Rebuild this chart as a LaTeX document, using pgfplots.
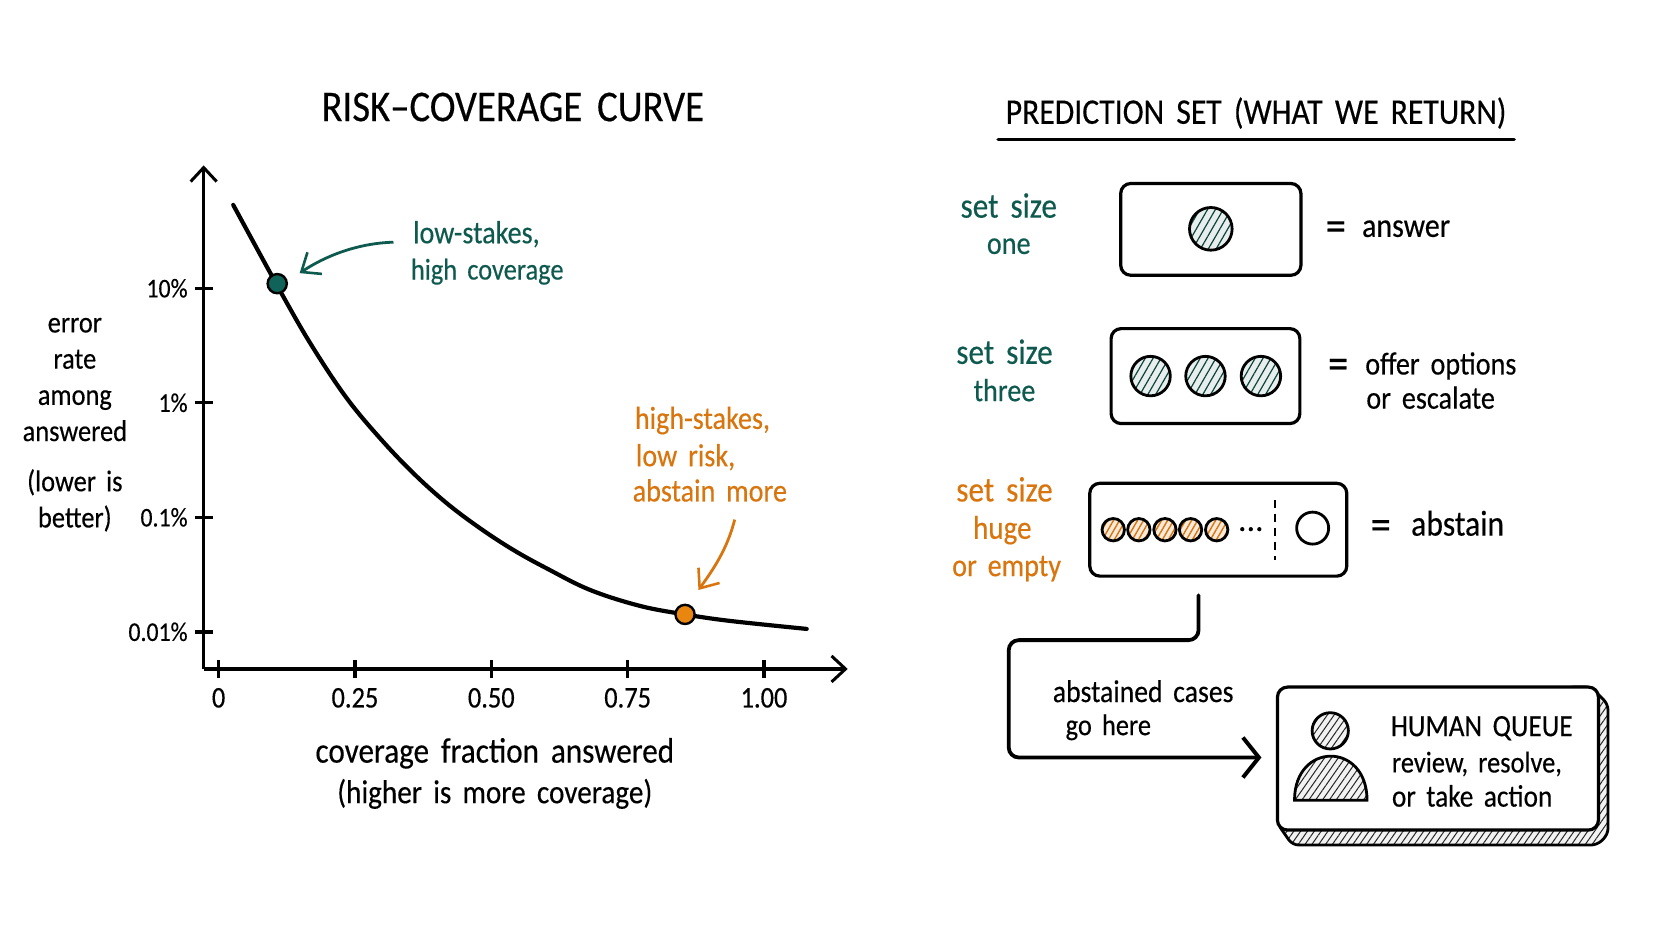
\documentclass[border=0pt]{standalone}
\usepackage{fontspec}
\usepackage{pgfplots}
\pgfplotsset{compat=1.18}
\usetikzlibrary{arrows.meta,patterns.meta}
\setmainfont[WordSpace=1.7,FakeStretch=0.88,FakeBold=0.35]{Carlito}
\definecolor{tealc}{HTML}{0F5A4E}
\definecolor{orangec}{HTML}{D8750E}
\definecolor{dotteal}{HTML}{0F6358}
\definecolor{dotorange}{HTML}{E8860F}
\newcommand\T[1]{\fontsize{#1}{#1}\selectfont}
\tikzset{
  px/.style={x=0.53316pt,y=-0.53345pt},
  box/.style={line width=1.6pt,rounded corners=5pt},
  tl/.style={anchor=base west,inner sep=0pt},
  tc/.style={anchor=base,inner sep=0pt},
  barb/.style={-{Straight Barb[length=8pt,width=13pt,line width=1.3pt]}},
  hatchT/.style={line width=1.4pt,draw=black,preaction={fill=tealc!10},pattern={Lines[angle=60,distance=3.4pt,line width=.6pt]},pattern color=tealc!75!black},
  hatchO/.style={line width=1.4pt,draw=black,preaction={fill=orangec!15},pattern={Lines[angle=60,distance=2.6pt,line width=.7pt]},pattern color=orangec},
  hatchK/.style={line width=1.4pt,draw=black,preaction={fill=black!5},pattern={Lines[angle=55,distance=2.8pt,line width=.5pt]},pattern color=black!85},
}
\pgfplotstableread{
x y
0.0268 53.4
0.1186 8.46
0.1736 3.00
0.2349 1.097
0.2959 0.4907
0.3570 0.2428
0.4182 0.1328
0.4793 0.0803
0.5403 0.0519
0.6016 0.0358
0.6810 0.02322
0.7726 0.01684
0.8552 0.01419
0.9377 0.01245
1.0783 0.0106
}\curvedata
\begin{document}
\begin{tikzpicture}
\begin{scope}[px]
\path (0,0) rectangle (1568,882);
\end{scope}
\begin{axis}[
  at={(101.83pt,-334.47pt)},anchor=south west,
  scale only axis,width=322.03pt,height=251.79pt,
  axis lines=left,
  axis line style={line width=1.7pt,-{Straight Barb[length=7pt,width=13pt,line width=1.5pt]}},
  xmin=-0.0274,xmax=1.1535,
  ymode=log,ymin=0.00474,ymax=118.3,
  xtick={0,0.25,0.5,0.75,1},xticklabels={0,0.25,0.50,0.75,1.00},
  ytick={10,1,0.1,0.01},yticklabels={10\%,1\%,0.1\%,0.01\%},
  yminorticks=false,xminorticks=false,
  tick align=center,major tick length=9pt,
  tick style={line width=1.7pt,black},
  yticklabel style={font=\T{13.5}},
  xticklabel style={font=\T{15},yshift=-1.5pt},
  title={\T{22}RISK–COVERAGE CURVE},
  title style={at={(axis description cs:0.480,1.092)},anchor=center,inner sep=0pt},
  xlabel={coverage fraction answered\\\fontsize{16.6}{20.3}\selectfont (higher is more coverage)},
  xlabel style={at={(axis description cs:0.452,-0.2075)},anchor=center,align=center,font=\fontsize{17.7}{20.3}\selectfont,inner sep=0pt},
  ylabel={error\\rate\\among\\answered\\[7pt](lower is\\better)},
  ylabel style={at={(axis description cs:-0.2,0.485)},rotate=-90,anchor=center,align=center,font=\fontsize{15}{18.1}\selectfont,inner sep=0pt},
  clip=false,
]
\addplot[black,line width=2.1pt,smooth,tension=0.6,line cap=round] table[x=x,y=y] {\curvedata};
\addplot[only marks,mark=*,mark size=4.8pt,mark options={fill=dotteal,draw=black,line width=1.2pt}] coordinates {(0.1075,10.97)};
\addplot[only marks,mark=*,mark size=4.8pt,mark options={fill=dotorange,draw=black,line width=1.2pt}] coordinates {(0.8552,0.01419)};
\end{axis}
\begin{scope}[px]
% annotations left
\node[tl,text=tealc] at (387,228) {\T{16}low-stakes,};
\node[tl,text=tealc] at (385,262) {\T{15}high coverage};
\draw[tealc,line width=1.4pt,barb] (369,227) .. controls (335,228) and (305,240) .. (281,256);
\node[tl,text=orangec] at (595,402) {\T{16}high-stakes,};
\node[tl,text=orangec] at (596,437) {\T{16}low risk,};
\node[tl,text=orangec] at (593,470) {\T{16}abstain more};
\draw[orangec,line width=1.4pt,barb] (689,487) .. controls (682,515) and (668,535) .. (655,553);
% right title
\node[tc] at (1178,116) {\T{18}PREDICTION SET (WHAT WE RETURN)};
\draw[line width=1.7pt,line cap=round] (936,130.5) -- (1420,130.5);
% row 1
\node[tc,text=tealc] at (946,204) {\T{17.7}set size};
\node[tc,text=tealc] at (946,238) {\T{16}one};
\draw[box] (1051,172) rectangle (1220,258);
\draw[hatchT] (1135.5,214.5) circle[radius=20];
\node[tl] at (1243,226) {\T{23}=};
\node[tl] at (1277,222) {\T{17}answer};
% row 2
\node[tc,text=tealc] at (942,341) {\T{17.7}set size};
\node[tc,text=tealc] at (942,376) {\T{16}three};
\draw[box] (1042,308) rectangle (1219,397);
\foreach \cx in {1079,1130.5,1182.5} \draw[hatchT] (\cx,352.5) circle[radius=18.5];
\node[tl] at (1245,355) {\T{23}=};
\node[tl] at (1280,351) {\T{16}offer options};
\node[tl] at (1281,383) {\T{16}or escalate};
% row 3
\node[tc,text=orangec] at (942,470) {\T{17.7}set size};
\node[tc,text=orangec] at (940,505) {\T{16.5}huge};
\node[tc,text=orangec] at (944,540) {\T{16}or empty};
\draw[box] (1022,453) rectangle (1263,540);
\foreach \cx in {1044,1068,1092.5,1116.5,1141} \draw[hatchO] (\cx,496.5) circle[radius=10.5];
\foreach \cx in {1165,1173,1181} \fill (\cx,496) circle[radius=2];
\draw[line width=1pt,dash pattern=on 4pt off 3pt] (1196,469) -- (1196,525);
\draw[line width=1.4pt] (1231,495) circle[radius=15];
\node[tl] at (1285,506) {\T{23}=};
\node[tl] at (1323,502) {\T{18}abstain};
% connector
\draw[line width=1.9pt,rounded corners=5pt,line cap=round,-{Straight Barb[length=8pt,width=20pt,line width=2pt]}] (1124,558) -- (1124,600) -- (946,600) -- (946,710) -- (1183,710);
\node[tl] at (987,658) {\T{15.75}abstained cases};
\node[tl] at (999,689) {\T{15}go here};
% human queue
\draw[hatchK,rounded corners=3pt] (1470,644) -- (1492,644) -- (1508,660) -- (1508,782) -- (1498,792) -- (1212,792) -- (1198,772) -- cycle;
\draw[box,fill=white] (1198,644) rectangle (1499,778);
\draw[hatchK] (1247.5,685) circle[radius=17];
\draw[hatchK] (1214,750) .. controls (1214,695) and (1282,695) .. (1282,750) -- cycle;
\node[tl] at (1304,690) {\T{15.5}HUMAN QUEUE};
\node[tl] at (1305,724) {\T{15}review, resolve,};
\node[tl] at (1305,756) {\T{15.5}or take action};
\end{scope}
\end{tikzpicture}
\end{document}
